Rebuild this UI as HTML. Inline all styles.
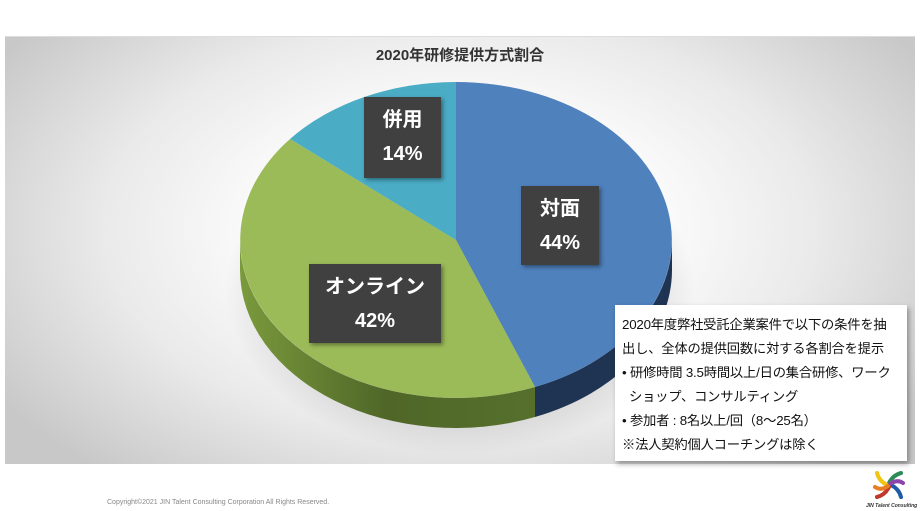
<!DOCTYPE html>
<html><head><meta charset="utf-8"><style>
body{margin:0;width:920px;height:511px;background:#fff;position:relative;overflow:hidden;font-family:"Liberation Sans","Noto Sans CJK JP",sans-serif}
#chart{position:absolute;left:5px;top:36px;width:910px;height:427px;background:radial-gradient(ellipse 60% 75% at 50% 45%,#ffffff 30%,#eaeaea 65%,#c8c8c8 100%);border-top:1px solid #ddd}
.title{position:absolute;left:0;width:920px;top:44px;text-align:center;font-size:15px;font-weight:bold;color:#333}
.lbl{position:absolute;background:#404040;color:#fff;font-weight:bold;font-size:20px;text-align:center;line-height:34px;box-shadow:2px 2px 4px rgba(0,0,0,.4)}
.box{position:absolute;left:615px;top:305px;width:292px;height:156px;background:#fff;box-shadow:2px 3px 5px rgba(0,0,0,.35);font-size:13.3px;color:#111;line-height:24px;padding:8px 0 0 7px;box-sizing:border-box;white-space:nowrap;letter-spacing:-0.2px}
.copy{position:absolute;left:107px;top:499px;font-size:7px;color:#888}
.logo{position:absolute;left:866px;top:503px;font-size:5px;color:#333;font-style:italic;font-weight:bold}
</style></head><body>
<div id="chart"></div>
<div class="title">2020年研修提供方式割合</div>
<svg style="position:absolute;left:0;top:0" width="920" height="511">
<defs>
<radialGradient id="sh" cx="50%" cy="50%" r="50%"><stop offset="60%" stop-color="#000" stop-opacity=".18"/><stop offset="100%" stop-color="#000" stop-opacity="0"/></radialGradient>
<linearGradient id="gs" x1="0" x2="1"><stop offset="0" stop-color="#7a9a3c"/><stop offset=".5" stop-color="#4f6628"/><stop offset="1" stop-color="#56702c"/></linearGradient>
</defs>
<ellipse cx="460" cy="290" rx="235" ry="165" fill="url(#sh)"/>
<path d="M672 240 A216 158 0 0 1 535 387 L535 417 A216 158 0 0 0 672 270 Z" fill="#1f3452"/>
<path d="M535 387 A216 158 0 0 1 240 240 L240 270 A216 158 0 0 0 535 417 Z" fill="url(#gs)"/>
<path d="M456 240 L456 82 A216 158 0 0 1 535 387 Z" fill="#4f81bd"/>
<path d="M456 240 L535 387 A216 158 0 0 1 290 139 Z" fill="#9bbb59"/>
<path d="M456 240 L290 139 A216 158 0 0 1 456 82 Z" fill="#4bacc6"/>
</svg>
<div class="lbl" style="left:364px;top:97px;width:77px;height:81px;padding-top:6px;box-sizing:border-box">併用<br>14%</div>
<div class="lbl" style="left:521px;top:186px;width:78px;height:79px;padding-top:6px;box-sizing:border-box">対面<br>44%</div>
<div class="lbl" style="left:309px;top:264px;width:132px;height:79px;padding-top:6px;box-sizing:border-box">オンライン<br>42%</div>
<div class="box">2020年度弊社受託企業案件で以下の条件を抽<br>出し、全体の提供回数に対する各割合を提示<br>• 研修時間 3.5時間以上/日の集合研修、ワーク<br>&nbsp;&nbsp;ショップ、コンサルティング<br>• 参加者 : 8名以上/回（8～25名）<br>※法人契約個人コーチングは除く</div>
<div class="copy">Copyright©2021 JIN Talent Consulting Corporation All Rights Reserved.</div>
<svg style="position:absolute;left:872px;top:468px" width="34" height="34" viewBox="-17 -17 34 34">
<g stroke-width="4" fill="none" stroke-linecap="round">
<path d="M0 -2 Q4 -10 12 -12" stroke="#2e8b57"/>
<path d="M2 0 Q10 4 12 12" stroke="#1e5aa8"/>
<path d="M0 2 Q-4 10 -12 12" stroke="#c0392b"/>
<path d="M-2 0 Q-10 -4 -12 -12" stroke="#f1c40f"/>
<path d="M1 -1 Q8 -6 14 -2" stroke="#8e44ad"/>
<path d="M-1 1 Q-8 6 -14 2" stroke="#e67e22"/>
</g></svg>
<div class="logo">JIN Talent Consulting</div>
</body></html>
